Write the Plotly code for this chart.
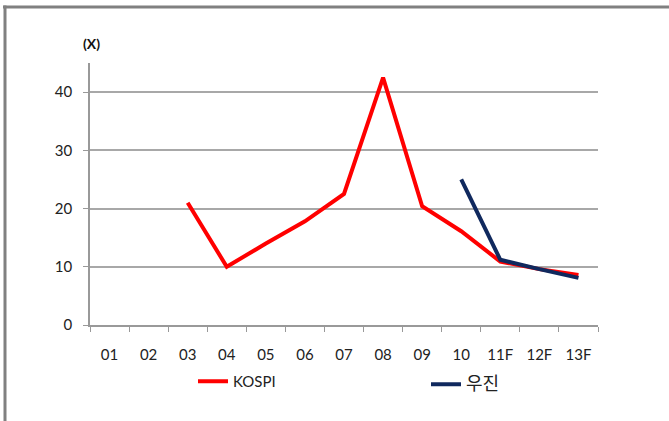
import plotly.graph_objects as go

categories = ["01", "02", "03", "04", "05", "06", "07", "08", "09", "10", "11F", "12F", "13F"]
kospi = [None, None, 21.0, 10.0, 14.0, 17.8, 22.5, 42.5, 20.4, 16.1, 10.9, 9.6, 8.6]
woojin = [None, None, None, None, None, None, None, None, None, 25.0, 11.2, 9.6, 8.1]
y_ticks = [0, 10, 20, 30, 40]

W, H = 669, 421
L, R, T, B = 90, 71, 63, 96
pw = W - L - R
ph = H - T - B

def px(x):
    return (x - L) / pw

def py(y):
    return (H - B - y) / ph

FONT = "Lato, 'Noto Sans CJK KR', sans-serif"

fig = go.Figure()
fig.add_trace(go.Scatter(x=categories, y=kospi, mode="lines", name="KOSPI",
                         line=dict(color="#FF0000", width=4), connectgaps=False,
                         legend="legend"))
fig.add_trace(go.Scatter(x=categories, y=woojin, mode="lines",
                         name="<span style='font-size:18px'>우진</span>",
                         line=dict(color="#10295E", width=4), connectgaps=False,
                         legend="legend2"))

leg_common = dict(orientation="h", xanchor="left", yanchor="top",
                  bgcolor="rgba(0,0,0,0)", borderwidth=0)

fig.update_layout(
    width=W, height=H,
    margin=dict(l=L, r=R, t=T, b=B),
    paper_bgcolor="white", plot_bgcolor="white",
    font=dict(family=FONT, size=15, color="#222"),
    showlegend=True,
    legend=dict(x=px(193), y=py(365), font=dict(family=FONT, size=15, color="#222"),
                **leg_common),
    legend2=dict(x=px(426), y=py(368),
                 font=dict(family=FONT, size=15, color="#222"), **leg_common),
    xaxis=dict(type="category", categoryorder="array", categoryarray=categories,
               range=[-0.5, len(categories) - 0.5],
               showline=True, linecolor="#999", linewidth=1.5,
               tickson="boundaries", ticks="outside", ticklen=5, tickcolor="#999",
               tickwidth=1.2, showgrid=False, ticklabelstandoff=15,
               tickfont=dict(size=15), fixedrange=True),
    yaxis=dict(range=[0, 45], tickvals=y_ticks, showline=True, linecolor="#999",
               linewidth=1.5, ticks="outside", ticklen=5, tickcolor="#999",
               tickwidth=1.2, showgrid=True, gridcolor="#A8A8A8", gridwidth=1.5,
               zeroline=False, ticklabelstandoff=8, tickfont=dict(size=15)),
    shapes=[
        dict(type="line", xref="paper", yref="paper", x0=px(3), x1=px(669),
             y0=py(7), y1=py(7), line=dict(color="#808080", width=3)),
        dict(type="line", xref="paper", yref="paper", x0=px(5), x1=px(5),
             y0=py(5.5), y1=py(421), line=dict(color="#808080", width=3)),
    ],
    annotations=[
        dict(text="<b>(X)</b>", xref="paper", yref="paper", x=px(91), y=py(43),
             xanchor="center", yanchor="middle", showarrow=False,
             font=dict(size=14, color="#111")),
    ],
)

fig.write_html("out.html", config={"displayModeBar": False},
               post_script="document.body.style.margin='0';document.body.style.overflow='hidden';")
